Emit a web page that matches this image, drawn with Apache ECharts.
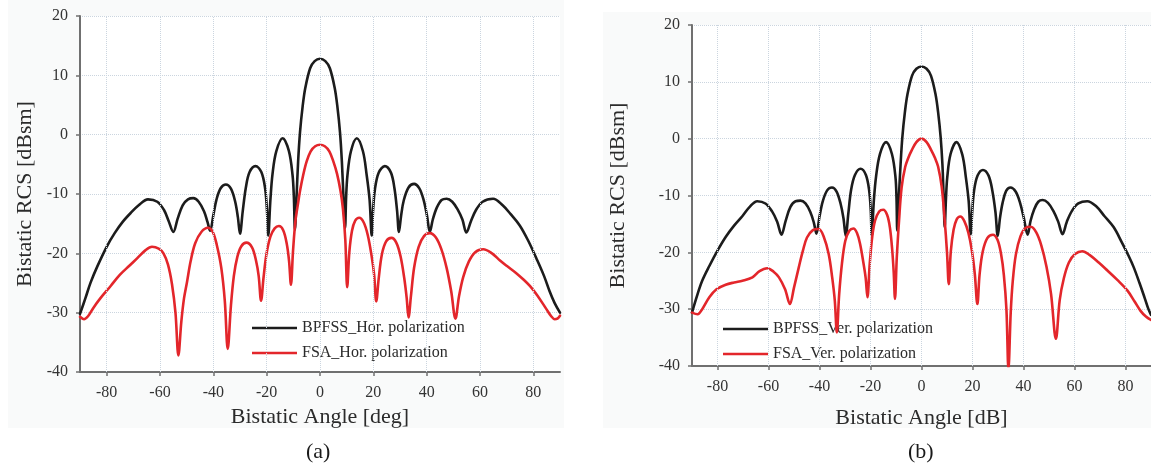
<!DOCTYPE html>
<html>
<head>
<meta charset="utf-8">
<script src="https://cdn.jsdelivr.net/npm/echarts@6/dist/echarts.min.js"></script>
<style>
  html, body { margin: 0; padding: 0; background: #ffffff; }
  #chart { width: 1151px; height: 469px; }
</style>
</head>
<body>
<div id="chart"></div>
<script>
// Bistatic RCS patterns, angle in degrees, RCS in dBsm.
const angleTicks = [-80, -60, -40, -20, 0, 20, 40, 60, 80];
const rcsRange = { min: -40, max: 20, step: 10 };

const seriesNames = {
  hBpfss: 'BPFSS_Hor. polarization',
  hFsa: 'FSA_Hor. polarization',
  vBpfss: 'BPFSS_Ver. polarization',
  vFsa: 'FSA_Ver. polarization'
};

// (a) horizontal polarization
const hBpfss = [
  [-90,-30.2],[-88,-27.6],[-86,-24.9],[-83.5,-22.2],[-80,-18.9],[-77,-16.6],[-74,-14.7],[-71,-13.2],[-68,-11.9],[-64.5,-10.9],[-61,-11.3],[-58.5,-12.7],[-56.8,-14.5],[-55,-16.4],
  [-53.4,-14.2],[-51.5,-11.9],[-49.5,-10.9],[-47.5,-10.7],[-45.5,-11.3],[-43.5,-12.9],[-42.2,-14.7],[-41.2,-16.2],
  [-40,-13.6],[-38.8,-10.9],[-37.2,-9],[-35.3,-8.4],[-33.4,-9.1],[-31.8,-11.3],[-30.8,-13.9],[-30,-16.7],
  [-29,-13],[-27.8,-8.9],[-26.4,-6.3],[-24.2,-5.3],[-22,-6.3],[-20.6,-9],[-19.9,-12.6],[-19.4,-17],
  [-18.6,-11],[-17.8,-6.6],[-16.4,-2.8],[-14,-0.6],[-11.7,-2.7],[-10.3,-6.8],[-9.8,-10.5],[-9.4,-16],
  [-8.8,-10.5],[-8.2,-4.5],[-7.5,0.4],[-6.5,4.8],[-5.5,7.9],[-3.7,11.2],[-2,12.4],[0,12.8],[2,12.4],[3.7,11.2],[5.5,7.9],[6.5,4.8],[7.5,0.4],[8.2,-4.5],[8.8,-10.5],[9.4,-15.7],
  [9.8,-10.5],[10.3,-6.8],[11.6,-2.8],[13.8,-0.6],[16.1,-2.8],[17.5,-6.8],[18.6,-11],[19.4,-17],
  [19.9,-12.8],[20.6,-9.2],[22,-6.4],[24.3,-5.3],[26.6,-6.4],[27.9,-9],[28.9,-12.8],[29.6,-16.4],
  [30.4,-13.7],[31.4,-11.1],[33.2,-8.9],[35.3,-8.3],[37.2,-9],[38.8,-10.9],[40.1,-13.6],[41.2,-16.4],
  [42.3,-14.3],[43.8,-12.3],[45.6,-11],[47.5,-10.8],[49.6,-11.3],[51.6,-12.6],[53.4,-14.3],[54.9,-16.5],
  [56.6,-14.6],[58.5,-12.7],[61,-11.3],[64.9,-10.8],[68.5,-11.9],[71.5,-13.4],[74.9,-15.3],[78,-17.8],[81.2,-20.9],[84,-23.8],[86.1,-26.4],[88,-28.4],[90,-30]
];
const hFsa = [
  [-90,-30.7],[-88.5,-31.1],[-87,-30.6],[-85,-29.2],[-82.4,-27.6],[-78.5,-25.5],[-75,-23.6],[-71.5,-22.1],[-68.5,-20.8],[-65.5,-19.5],[-63,-18.9],[-60.5,-19.2],[-58.7,-20],[-57,-21.9],[-55.5,-25.2],[-54.2,-30],[-53.1,-37.2],
  [-52,-31.5],[-51,-27.6],[-49.9,-24.9],[-48.5,-21.3],[-46.8,-18.3],[-44.5,-16.4],[-42,-15.7],[-40.2,-16.4],[-38.7,-18.6],[-37,-22.5],[-35.7,-28],[-34.6,-36.1],
  [-33.4,-28.8],[-32.3,-23.8],[-31,-20.6],[-29.5,-18.8],[-27.6,-18.2],[-25.5,-19],[-24,-21.2],[-23,-23.8],[-22.1,-28],
  [-21.2,-24.2],[-20.1,-20.2],[-18.6,-17.2],[-17,-15.8],[-15.4,-15.4],[-13.8,-16.1],[-12.5,-18.3],[-11.6,-21.3],[-10.9,-25.3],
  [-10.1,-19.5],[-9.2,-14.5],[-8.2,-11.5],[-7.5,-9.5],[-6.2,-6.6],[-5,-4.5],[-3.5,-2.8],[-1.8,-1.95],[0,-1.7],[1.8,-1.95],[3.5,-2.8],[5,-4.5],[6.4,-6.6],[7.7,-9.5],[8.6,-12.5],[9.5,-17.8],[10.2,-25.7],
  [11,-19.8],[12,-16.2],[13.2,-14.5],[14.7,-14],[16.4,-14.8],[17.9,-16.9],[19.3,-20.3],[20.3,-23.6],[21.1,-28.1],
  [22,-24.3],[23.2,-20.2],[24.8,-18],[26.8,-17.4],[28.6,-18.2],[30.2,-20.5],[31.6,-24.2],[32.5,-27.5],[33.2,-30.8],
  [34.1,-27.2],[35.3,-22.4],[37,-18.9],[39,-17.1],[41.2,-16.6],[43.4,-17.3],[45.5,-19.3],[47.5,-22.5],[49.2,-26.4],[50.8,-31],
  [52.1,-27.3],[53.7,-24],[55.8,-21.4],[58.2,-19.8],[61.2,-19.3],[64.5,-20],[67.5,-21.2],[70,-22.1],[73.5,-23.3],[76.5,-24.5],[78.7,-25.5],[81.5,-27.1],[84.9,-29.4],[86.7,-30.6],[88,-31.1],[89,-31],[90,-30.5]
];

// (b) vertical polarization
const vBpfss = [
  [-90,-30.6],[-88,-27.6],[-86,-25],[-83.2,-22.4],[-80,-19.7],[-76.8,-17.3],[-73.5,-15.3],[-70.2,-13.6],[-67.2,-11.9],[-64.4,-11],[-61.2,-11.4],[-58.6,-12.8],[-56.6,-14.6],[-54.9,-16.9],
  [-53.3,-14.5],[-51.4,-12],[-49.4,-11],[-47.5,-10.9],[-45.5,-11.4],[-43.6,-12.9],[-42.2,-14.8],[-41.2,-16.7],
  [-40,-13.7],[-38.7,-11],[-37,-9.1],[-35.1,-8.6],[-33.3,-9.3],[-31.7,-11.5],[-30.6,-14],[-29.7,-17.1],
  [-28.7,-13.2],[-27.6,-9],[-26.1,-6.4],[-23.9,-5.3],[-21.8,-6.4],[-20.5,-9.2],[-19.9,-12.6],[-19.5,-17.1],
  [-18.7,-11],[-17.8,-6.6],[-16.3,-2.7],[-13.9,-0.6],[-11.6,-2.7],[-10.2,-6.8],[-9.8,-10.5],[-9.5,-16.2],
  [-8.9,-10.5],[-8.2,-4.5],[-7.5,0.3],[-6.5,4.7],[-5.5,7.8],[-3.7,11.1],[-2,12.3],[0,12.7],[2,12.3],[3.7,11.1],[5.5,7.8],[6.5,4.7],[7.5,0.3],[8.2,-4.5],[8.7,-10.5],[9.1,-15.6],
  [9.6,-10.5],[10.1,-6.8],[11.4,-2.7],[13.7,-0.6],[16,-2.8],[17.4,-6.8],[18.5,-11],[19.3,-16.8],
  [19.9,-12.8],[20.6,-9.2],[22,-6.5],[24.1,-5.5],[26.3,-6.5],[27.8,-9.2],[29,-12.9],[29.9,-17.1],
  [30.8,-13.9],[31.8,-11.3],[33.2,-9.2],[34.9,-8.6],[36.9,-9.3],[38.6,-11.2],[40.1,-13.9],[41.6,-16.9],
  [42.8,-14.4],[44.2,-12.4],[45.8,-11.1],[47.5,-10.8],[49.6,-11.3],[51.7,-12.7],[53.6,-14.6],[55.3,-16.8],
  [57,-14.6],[59,-12.7],[61.5,-11.4],[65,-11],[68.5,-11.9],[71.7,-13.6],[75.4,-15.6],[78.5,-18.2],[81.2,-20.6],[83.2,-22.6],[85.5,-25.4],[87.5,-28],[89,-30],[90,-31]
];
const vFsa = [
  [-90,-30.6],[-87.8,-30.9],[-86,-30],[-83.2,-27.9],[-80.4,-26.5],[-76.8,-25.7],[-73.5,-25.3],[-70.2,-25],[-66.3,-24.4],[-63.5,-23.3],[-60.5,-22.8],[-58,-23.4],[-55.9,-24.4],[-53.5,-26.5],[-51.6,-29.1],
  [-50,-26.2],[-48.1,-22.6],[-46.5,-19.7],[-44.9,-17.4],[-42.6,-16.1],[-40.3,-15.9],[-38.3,-17.3],[-36.4,-20.3],[-35,-24.5],[-34,-28.5],[-33.2,-34.1],
  [-32.3,-27.5],[-31.2,-22],[-29.9,-18],[-28.3,-16.2],[-26.7,-15.8],[-25.3,-16.6],[-24.1,-18.5],[-22.8,-21.8],[-21.9,-24.5],[-21.2,-27.9],
  [-20.3,-22],[-19.3,-17.2],[-18.2,-14.4],[-16.6,-12.8],[-15,-12.5],[-13.5,-13.4],[-12.4,-15.6],[-11.5,-19.5],[-10.9,-23.5],[-10.4,-28.2],
  [-9.7,-21],[-8.8,-14.4],[-7.8,-8.6],[-6.4,-5],[-5.2,-3.4],[-3.9,-2.1],[-2,-0.6],[0,0],[2,-0.6],[3.9,-2.1],[5.3,-3.4],[6.5,-4.9],[7.9,-8.4],[9,-13.8],[10,-20],[10.7,-25.6],
  [11.5,-19.8],[12.6,-16],[13.8,-14.2],[15.2,-13.7],[16.8,-14.5],[18.4,-16.6],[19.8,-19.8],[20.9,-23.8],[21.9,-29.1],
  [22.8,-23.8],[24,-19.9],[25.8,-17.5],[28,-16.9],[29.8,-17.8],[31.2,-20.3],[32.3,-24],[33.3,-30],[34.1,-40.5],
  [35,-30.5],[35.8,-25],[37,-20.4],[38.8,-17.2],[40.8,-15.7],[42.9,-15.5],[45,-16.5],[47,-18.8],[49,-22.5],[50.8,-27.3],[52.7,-35.2],
  [54.2,-28.4],[55.8,-24.6],[57.8,-21.8],[60.2,-20.3],[63.1,-19.8],[66,-20.5],[69.5,-21.8],[72.9,-23.2],[76.9,-24.9],[80.7,-26.7],[83.5,-28.6],[85.9,-30.3],[88,-31.3],[90,-31.9]
];

const SERIF = '"Liberation Serif", "DejaVu Serif", serif';
const BLACK = '#1c1c1c';
const RED = '#e3262b';
const AXIS_GREY = '#707070';
const GRID_COLOR = '#cbd5df';

function xAxisFor(gridIndex, name, nameGap) {
  return {
    type: 'value', gridIndex, min: -90, max: 90,
    name, nameLocation: 'middle', nameGap,
    nameTextStyle: { fontFamily: SERIF, fontSize: 22, color: '#2b2b2b' },
    axisLine: { show: true, onZero: false, lineStyle: { color: AXIS_GREY, width: 2 } },
    axisTick: { show: true, inside: false, length: 4, customValues: angleTicks, lineStyle: { color: AXIS_GREY, width: 1.5 } },
    axisLabel: { fontFamily: SERIF, fontSize: 16, color: '#333', margin: 13, customValues: angleTicks },
    splitLine: { show: false }
  };
}

function yAxisFor(gridIndex, nameGap) {
  return {
    type: 'value', gridIndex, min: rcsRange.min, max: rcsRange.max, interval: rcsRange.step,
    name: 'Bistatic RCS [dBsm]', nameLocation: 'middle', nameGap,
    nameTextStyle: { fontFamily: SERIF, fontSize: 22, color: '#2b2b2b' },
    axisLine: { show: true, onZero: false, lineStyle: { color: AXIS_GREY, width: 2 } },
    axisTick: { show: true, inside: false, length: 4, lineStyle: { color: AXIS_GREY, width: 1.5 } },
    axisLabel: { fontFamily: SERIF, fontSize: 16, color: '#333', margin: 12 },
    splitLine: { show: true, lineStyle: { color: GRID_COLOR, type: 'dotted', width: 1 } }
  };
}

// Vertical grid lines sit on the labelled angle ticks.
function angleGridLines(idx) {
  return {
    type: 'line', xAxisIndex: idx, yAxisIndex: idx, data: [], z: 1, silent: true,
    markLine: {
      silent: true, symbol: ['none', 'none'], animation: false,
      label: { show: false },
      lineStyle: { color: GRID_COLOR, type: 'dotted', width: 1 },
      data: angleTicks.map(v => ({ xAxis: v }))
    }
  };
}

function curve(name, data, color, idx, z) {
  return {
    type: 'line', name, data, xAxisIndex: idx, yAxisIndex: idx,
    showSymbol: false, symbol: 'none', smooth: 0.35,
    lineStyle: { color, width: 2.6, join: 'round', cap: 'round' }, itemStyle: { color }, z
  };
}

function legendFor(names, left, top) {
  return {
    data: names, orient: 'vertical', left, top,
    icon: 'rect', itemWidth: 45, itemHeight: 2.6, itemGap: 7,
    selectedMode: false,
    textStyle: { fontFamily: SERIF, fontSize: 16, color: '#2b2b2b', lineHeight: 18 }
  };
}

const chart = echarts.init(document.getElementById('chart'), null, { renderer: 'canvas' });
chart.setOption({
  animation: false,
  backgroundColor: '#ffffff',
  grid: [
    { left: 80, top: 16, width: 480, height: 356, show: true, backgroundColor: '#ffffff', borderWidth: 0 },
    { left: 692, top: 25, width: 461, height: 341, show: true, backgroundColor: '#ffffff', borderWidth: 0 }
  ],
  graphic: [
    { type: 'rect', z: -10, silent: true, shape: { x: 8, y: 0, width: 556, height: 428 }, style: { fill: '#f9fafa' } },
    { type: 'rect', z: -10, silent: true, shape: { x: 603, y: 12, width: 548, height: 416 }, style: { fill: '#f9fafa' } },
    { type: 'text', left: 306, top: 441, silent: true, style: { text: '(a)', font: '22px ' + SERIF, fill: '#1a1a1a' } },
    { type: 'text', left: 908, top: 441, silent: true, style: { text: '(b)', font: '22px ' + SERIF, fill: '#1a1a1a' } }
  ],
  xAxis: [
    xAxisFor(0, 'Bistatic Angle [deg]', 30),
    xAxisFor(1, 'Bistatic Angle [dB]', 41)
  ],
  yAxis: [
    yAxisFor(0, 44),
    yAxisFor(1, 63)
  ],
  legend: [
    legendFor([seriesNames.hBpfss, seriesNames.hFsa], 247, 314),
    legendFor([seriesNames.vBpfss, seriesNames.vFsa], 718, 315)
  ],
  series: [
    angleGridLines(0),
    angleGridLines(1),
    curve(seriesNames.hBpfss, hBpfss, BLACK, 0, 3),
    curve(seriesNames.hFsa, hFsa, RED, 0, 4),
    curve(seriesNames.vBpfss, vBpfss, BLACK, 1, 3),
    curve(seriesNames.vFsa, vFsa, RED, 1, 4)
  ]
});
</script>
</body>
</html>
